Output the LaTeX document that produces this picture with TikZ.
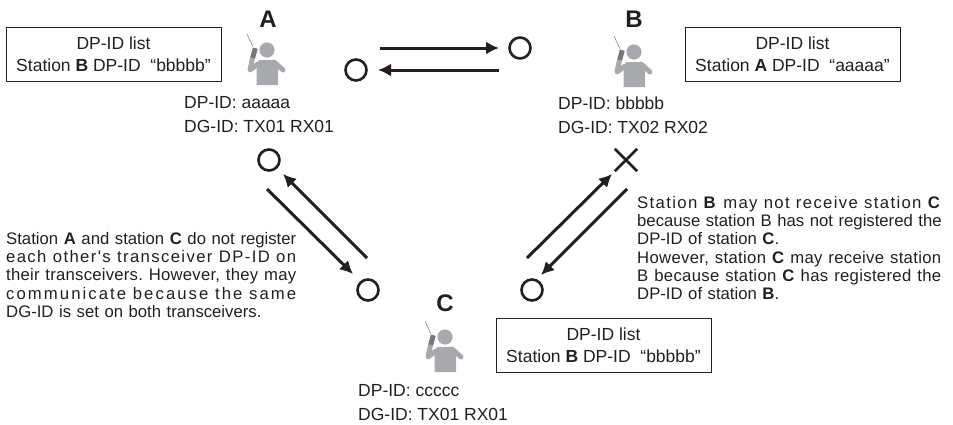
\documentclass[tikz,border=0pt]{standalone}
\usepackage{fontspec}
\setmainfont{Liberation Sans}[Ligatures=TeXOff]
\usetikzlibrary{arrows.meta}
\definecolor{persongray}{HTML}{A7A9AC}
\definecolor{radiogray}{HTML}{77787B}
\definecolor{ink}{HTML}{231F20}
\newcommand\fitl[3]{\hbox to #1{\addfontfeature{LetterSpace=#2}#3}}
\newcommand\gp{\ \hskip 0pt plus 1fil\relax}
\tikzset{
  x=1pt,y=-1pt,
  every node/.style={text=ink,inner sep=0pt},
  listbox/.style={draw=ink,line width=1pt,align=center,minimum width=215pt,minimum height=54pt,font=\fontsize{17.5}{22}\selectfont},
  idtext/.style={align=left,anchor=west,font=\fontsize{17.5}{24}\selectfont},
  station/.style={font=\bfseries\fontsize{24}{24}\selectfont},
  note/.style={anchor=north west,font=\fontsize{16.7}{18.3}\selectfont},
  okmark/.style={circle,draw=ink,line width=2.6pt,minimum size=21pt},
  link/.style={draw=ink,line width=3pt,-{Latex[length=13pt,width=13pt]}},
  person/.pic={
    \fill[persongray] (0,0) circle (7.6);
    \fill[persongray] (-8,10) -- (8,10) -- (11,15) -- (11,35) -- (-10.5,35) -- (-10.5,15) -- cycle;
    \draw[persongray,line width=5pt,line cap=round,line join=round] (-14.5,8) -- (-17,20) -- (-9,14);
    \draw[persongray,line width=5pt,line cap=round] (7,12) -- (16,20);
    \fill[radiogray,rotate around={-15:(-13,3)}] (-15.5,-2) rectangle (-10.5,8);
    \draw[radiogray,line width=0.5pt] (-14,-3) -- (-20,-16);
  }
}
\begin{document}
\begin{tikzpicture}
\useasboundingbox (0,0) rectangle (953,424);
\pic at (267,50) {person};
\pic at (634,52) {person};
\pic at (445,337) {person};
\node[station] (lblA) at (268,19) {A};
\node[station] (lblB) at (634,19) {B};
\node[station] (lblC) at (445,303) {C};
\node[listbox] (listA) at (113.5,54) {DP-ID list\\Station \textbf{B} DP-ID\ \ “bbbbb”};
\node[listbox] (listB) at (792.5,54) {DP-ID list\\Station \textbf{A} DP-ID\ \ “aaaaa”};
\node[listbox] (listC) at (603.5,345.5) {DP-ID list\\Station \textbf{B} DP-ID\ \ “bbbbb”};
\node[idtext] (idA) at (184,115) {DP-ID: aaaaa\\DG-ID: TX01 RX01};
\node[idtext] (idB) at (558,115) {DP-ID: bbbbb\\DG-ID: TX02 RX02};
\node[idtext] (idC) at (358,403) {DP-ID: ccccc\\DG-ID: TX01 RX01};
\node[okmark] (oAa) at (356,70) {};
\node[okmark] (oBa) at (520,48) {};
\node[okmark] (oAc) at (269,160) {};
\node[okmark] (oCa) at (368,290) {};
\node[okmark] (oCb) at (532,290) {};
\node[minimum size=22pt] (xB) at (626,160) {};
\draw[draw=ink,line width=2.6pt] (xB.north west) -- (xB.south east) (xB.north east) -- (xB.south west);
\coordinate (p1s) at (380,48); \coordinate (p1e) at (499,48);
\coordinate (p2s) at (499,70); \coordinate (p2e) at (378,70);
\coordinate (p3s) at (367,258); \coordinate (p3e) at (283,174);
\coordinate (p4s) at (267,189); \coordinate (p4e) at (353,274);
\coordinate (p5s) at (527,258); \coordinate (p5e) at (612,174);
\coordinate (p6s) at (627,189); \coordinate (p6e) at (541,275);
\draw[link] (p1s) -- (p1e);
\draw[link] (p2s) -- (p2e);
\draw[link] (p3s) -- (p3e);
\draw[link] (p4s) -- (p4e);
\draw[link] (p5s) -- (p5e);
\draw[link] (p6s) -- (p6e);
\node[note,text width=290pt] (noteL) at (6,232) {%
\fitl{290pt}{0}{Station\gp\textbf{A}\gp and\gp station\gp\textbf{C}\gp do\gp not\gp register}\par
\fitl{290pt}{8.2}{each\gp other's\gp transceiver\gp DP-ID\gp on}\par
\fitl{290pt}{1.4}{their\gp transceivers.\gp However,\gp they\gp may}\par
\fitl{290pt}{12.4}{communicate\gp because\gp the\gp same}\par
DG-ID is set on both transceivers.};
\node[note,text width=304pt] (noteR) at (637,196) {%
\fitl{304pt}{8.1}{Station\gp\textbf{B}\gp may\gp not\gp receive\gp station\gp\textbf{C}}\par
\fitl{304pt}{0}{because\gp station\gp B\gp has\gp not\gp registered\gp the}\par
DP-ID of station \textbf{C}.\par
\fitl{304pt}{1.9}{However,\gp station\gp\textbf{C}\gp may\gp receive\gp station}\par
\fitl{304pt}{1.9}{B\gp because\gp station\gp\textbf{C}\gp has\gp registered\gp the}\par
DP-ID of station \textbf{B}.};
\end{tikzpicture}
\end{document}
